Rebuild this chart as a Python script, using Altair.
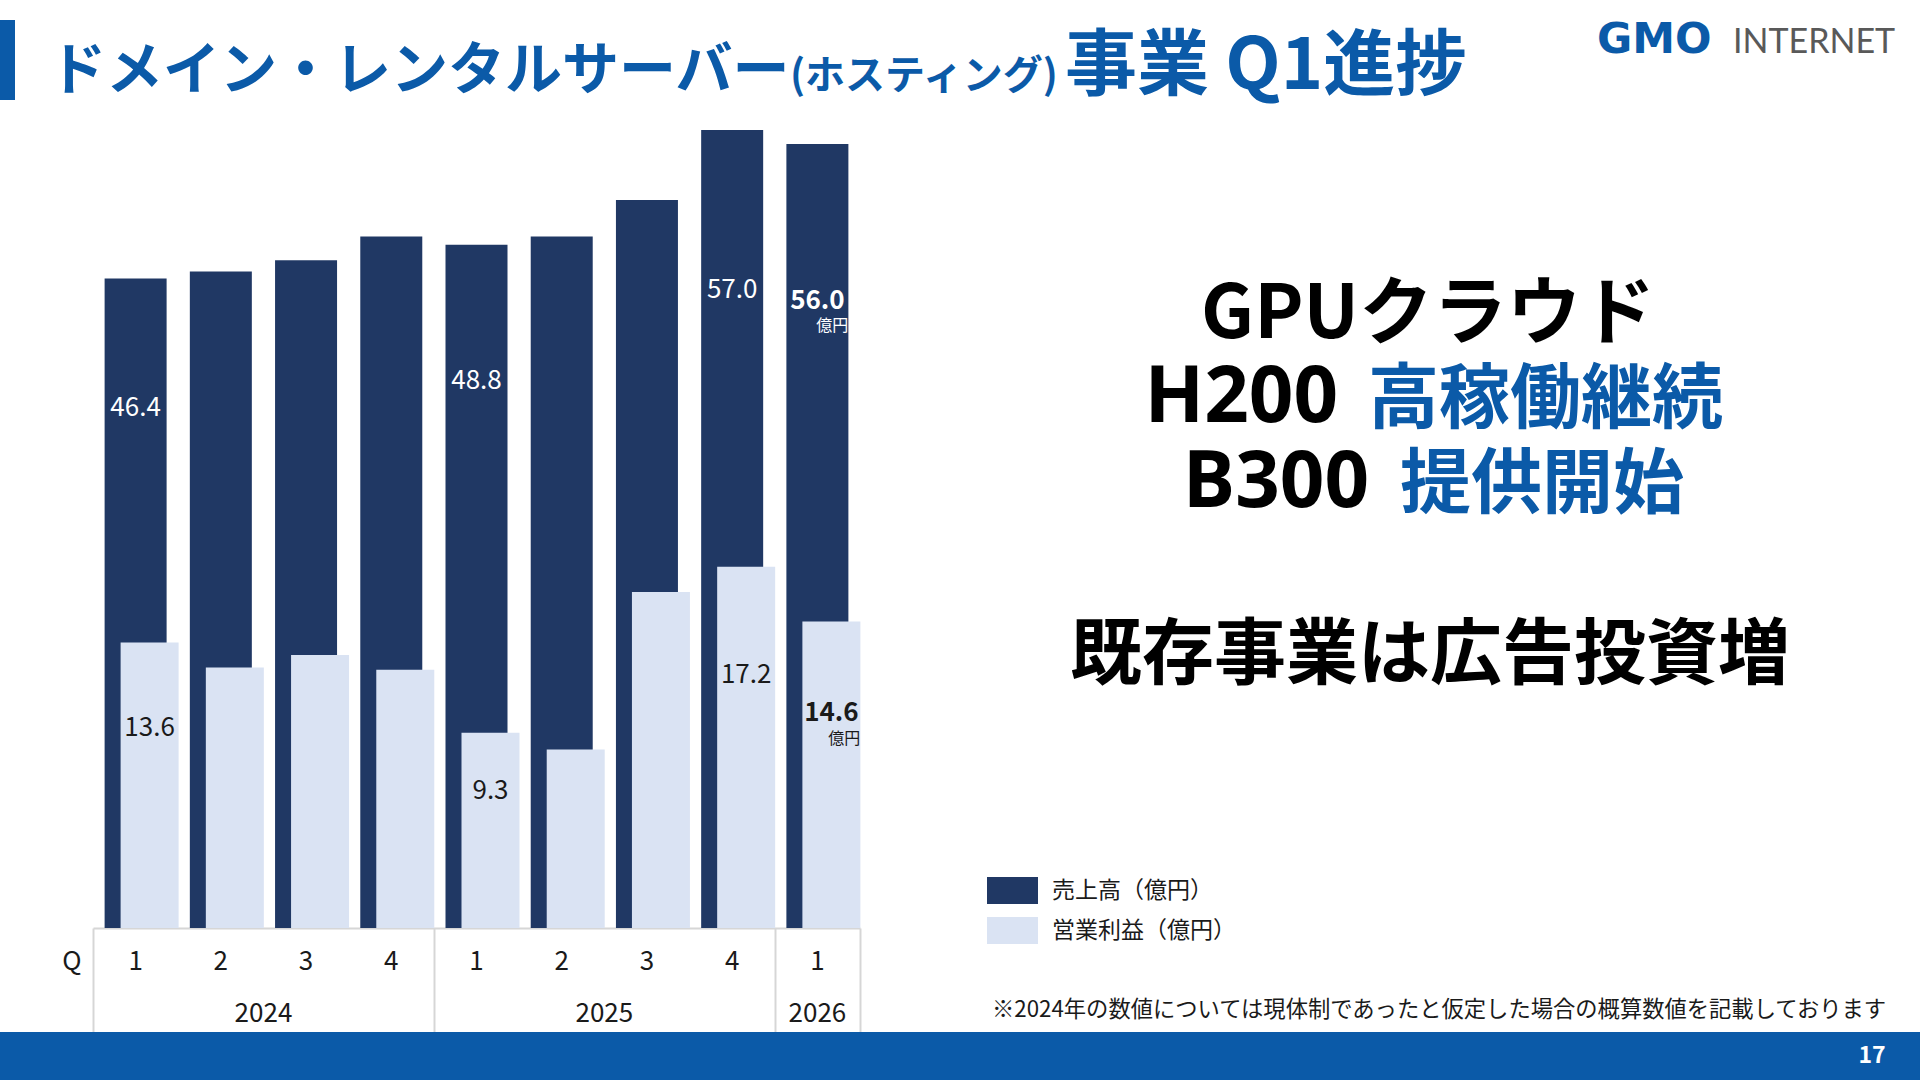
import altair as alt
import pandas as pd

# ---------------- data ----------------
YEARS = ["2024", "2024", "2024", "2024", "2025", "2025", "2025", "2025", "2026"]
QUARTERS = ["1", "2", "3", "4", "1", "2", "3", "4", "1"]
REVENUE = [46.4, 46.9, 47.7, 49.4, 48.8, 49.4, 52.0, 57.0, 56.0]
OP_PROFIT = [13.6, 12.4, 13.0, 12.3, 9.3, 8.5, 16.0, 17.2, 14.6]
LABELED = [True, False, False, False, True, False, False, True, True]
SERIES = ["売上高（億円）", "営業利益（億円）"]
UNIT = "億円"
AXIS_PREFIX = "Q"
TITLE_MAIN = "ドメイン・レンタルサーバー"
TITLE_SUB = "(ホスティング)"
TITLE_END = "事業 Q1進捗"
MSG_1 = "GPUクラウド"
MSG_2A, MSG_2B = "H200", "高稼働継続"
MSG_3A, MSG_3B = "B300", "提供開始"
MSG_4 = "既存事業は広告投資増"
FOOTNOTE = "※2024年の数値については現体制であったと仮定した場合の概算数値を記載しております"
PAGE = "17"
LOGO_A, LOGO_B = "GMO", "INTERNET"

# ---------------- styles ----------------
FONT = "Noto Sans CJK JP"
DARK = "#203864"
LIGHT = "#dae3f3"
BLUE = "#0b5aa8"
GRID = "#d6d6d6"
TXT = "#1a1a1a"
OX, OY = 93, 88          # plot origin inside the 1920x1080 page
W, H = 767, 840

n = len(YEARS)
rows = []
for i in range(n):
    latest = i == n - 1
    rows.append(dict(idx=i, year=YEARS[i], quarter=QUARTERS[i], series=SERIES[0],
                     value=REVENUE[i], labeled=LABELED[i], latest=latest))
    rows.append(dict(idx=i, year=YEARS[i], quarter=QUARTERS[i], series=SERIES[1],
                     value=OP_PROFIT[i], labeled=LABELED[i], latest=latest))
long_df = pd.DataFrame(rows)
wide_df = pd.DataFrame(dict(idx=list(range(n)), year=YEARS, quarter=QUARTERS))

bounds = [-0.5] + [i + 0.5 for i in range(n - 1) if YEARS[i] != YEARS[i + 1]] + [n - 0.5]

xscale = alt.Scale(domain=[-0.5, n - 0.5], nice=False, zero=False, padding=0)
xaxis = alt.Axis(values=bounds, labels=False, tickSize=104, tickWidth=2, tickColor=GRID,
                 domainColor=GRID, domainWidth=2, grid=False, title=None)
X = alt.X("idx:Q", scale=xscale, axis=xaxis)

rev_scale = alt.Scale(domain=[0, 60], nice=False, padding=0)
op_scale = alt.Scale(domain=[0, 40], nice=False, padding=0)

color = alt.Color(
    "series:N",
    scale=alt.Scale(domain=SERIES, range=[DARK, LIGHT]),
    legend=alt.Legend(orient="none", legendX=987 - OX, legendY=865 - OY, title=None,
                      symbolType="M-1,-0.53H1V0.53H-1Z", symbolSize=2601,
                      symbolStrokeWidth=0, symbolOpacity=1, labelFont=FONT,
                      labelFontSize=23, labelColor=TXT, labelOffset=14, labelLimit=400,
                      rowPadding=-8, padding=0),
)

rev_src = alt.Chart(long_df).transform_filter(alt.FieldEqualPredicate(field="series", equal=SERIES[0]))
op_src = alt.Chart(long_df).transform_filter(alt.FieldEqualPredicate(field="series", equal=SERIES[1]))

rev_bars = rev_src.mark_bar(size=62).encode(
    x=X, y=alt.Y("value:Q", scale=rev_scale, axis=None), color=color)
op_bars = op_src.mark_bar(size=58, xOffset=14).encode(
    x=X, y=alt.Y("value:Q", scale=op_scale, axis=None), color=color)


def value_labels(src, factor, yscale, col, dx, unit_dx, unit_dy):
    base = src.transform_filter("datum.labeled").transform_calculate(pos=f"datum.value * {factor}")
    enc = dict(x=X, y=alt.Y("pos:Q", scale=yscale, axis=None),
               text=alt.Text("value:Q", format=".1f"))
    regular = base.transform_filter("!datum.latest").mark_text(
        font=FONT, fontSize=26, color=col, baseline="middle", dx=dx).encode(**enc)
    bold = base.transform_filter("datum.latest").mark_text(
        font=FONT, fontSize=26, fontWeight="bold", color=col, baseline="middle", dx=dx).encode(**enc)
    unit = base.transform_filter("datum.latest").mark_text(
        font=FONT, fontSize=16, color=col, baseline="middle", align="right",
        dx=unit_dx, dy=unit_dy).encode(
        x=X, y=alt.Y("pos:Q", scale=yscale, axis=None), text=alt.value(UNIT))
    return [regular, bold, unit]


rev_labels = value_labels(rev_src, 0.8, rev_scale, "white", 0, 31, 25)
op_labels = value_labels(op_src, 0.7, op_scale, TXT, 14, 43, 26)

q_labels = alt.Chart(wide_df).mark_text(
    font=FONT, fontSize=26, color=TXT, baseline="middle").encode(
    x=X, y=alt.value(962 - OY), text="quarter:N")
year_labels = alt.Chart(wide_df).transform_aggregate(
    pos="mean(idx)", groupby=["year"]).mark_text(
    font=FONT, fontSize=26, color=TXT, baseline="middle").encode(
    x=alt.X("pos:Q", scale=xscale, axis=xaxis), y=alt.value(1014 - OY), text="year:N")


def note(text, X0, Y0, size, color=TXT, weight="normal", align="left",
         baseline="alphabetic", font=FONT, style="normal"):
    return alt.Chart(pd.DataFrame({"t": [text]})).mark_text(
        align=align, baseline=baseline, fontSize=size, font=font,
        fontWeight=weight, fontStyle=style, color=color).encode(
        text="t:N", x=alt.value(X0 - OX), y=alt.value(Y0 - OY))


def band(X1, X2, Y1, Y2, col):
    return alt.Chart(pd.DataFrame({"k": [0]})).mark_rect(color=col).encode(
        x=alt.value(X1 - OX), x2=alt.value(X2 - OX), y=alt.value(Y1 - OY), y2=alt.value(Y2 - OY))


footer = band(0, 1920, 1032, 1080, BLUE)
title_bar = band(0, 15, 20, 100, BLUE)

notes = [
    note(AXIS_PREFIX, 72, 962, 26, align="center", baseline="middle"),
    note(TITLE_MAIN, 49, 89, 57, BLUE, "bold"),
    note(TITLE_SUB, 790, 89, 40, BLUE, "bold"),
    note(TITLE_END, 1065, 89, 72, BLUE, "bold"),
    note(LOGO_A, 1597, 53, 43, BLUE, "bold", font="DejaVu Sans"),
    note(LOGO_B, 1733, 53, 34, "#595959", "normal", font="Lato"),
    note(MSG_1, 1428, 338, 74, "#000000", "bold", align="center"),
    note(MSG_2A, 1338, 422, 78, "#000000", "bold", align="right", font="Open Sans"),
    note(MSG_2B, 1368, 422, 71, BLUE, "bold"),
    note(MSG_3A, 1369, 507, 78, "#000000", "bold", align="right", font="Open Sans"),
    note(MSG_3B, 1400, 507, 71, BLUE, "bold"),
    note(MSG_4, 1430, 678, 72, "#000000", "bold", align="center"),
    note(FOOTNOTE, 992, 1010, 22.3, TXT, baseline="middle"),
    note(PAGE, 1872, 1056, 23, "white", "bold", align="center", baseline="middle"),
]

chart = alt.layer(
    footer, title_bar, rev_bars, op_bars, *rev_labels, *op_labels,
    q_labels, year_labels, *notes
).resolve_scale(y="independent").properties(
    width=W, height=H,
    padding={"left": OX, "top": OY, "right": 1920 - OX - W, "bottom": 1080 - OY - H},
    autosize=alt.AutoSizeParams(type="none"),
    background="white",
).configure_view(strokeWidth=0)

chart.save("out.html", embed_options={"renderer": "svg", "actions": False})
